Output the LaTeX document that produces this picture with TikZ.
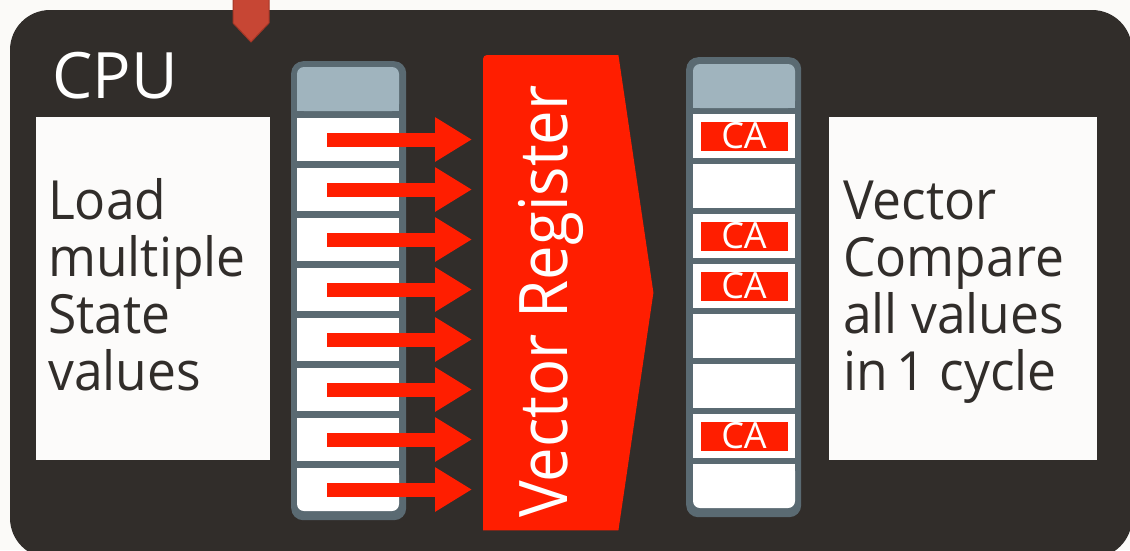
\documentclass[tikz,border=0pt]{standalone}
\usepackage{fontspec}
\setmainfont{Open Sans}[FakeStretch=0.955]
\newfontfamily\vrfont{Open Sans}[FakeStretch=0.92]
\newfontfamily\plainfont{Open Sans}
\usetikzlibrary{arrows.meta,calc}
\definecolor{bgc}{HTML}{FBFAF8}
\definecolor{cpuc}{HTML}{312D2A}
\definecolor{boxc}{HTML}{FCFBFA}
\definecolor{regborder}{HTML}{5A6A72}
\definecolor{reghead}{HTML}{A0B4BE}
\definecolor{brightred}{HTML}{FF1E00}
\definecolor{oracred}{HTML}{C74634}
\definecolor{oracreddark}{HTML}{A33626}
\begin{document}
\begin{tikzpicture}[x=1pt,y=-1pt,
  textbox/.style={fill=boxc, draw=none, anchor=north west, inner sep=0pt, minimum height=343pt},
  bodytext/.style={anchor=north west, inner sep=0pt, align=left, text=cpuc,
    font=\fontsize{54pt}{57pt}\selectfont},
  colouter/.style={fill=regborder, draw=none, anchor=north west, inner sep=0pt,
    minimum width=115pt, rounded corners=12pt},
  cellbox/.style={fill=white, draw=none, inner sep=0pt, minimum width=102pt},
  calabel/.style={fill=brightred, text=white, inner sep=0pt, minimum width=87pt,
    minimum height=29pt, font=\plainfont\fontsize{36pt}{36pt}\selectfont},
  bigarrow/.style={draw=brightred, line width=14pt,
    -{Triangle[length=37pt 0 0, width=42pt 0 0]}}]
\useasboundingbox (0,0) rectangle (1130,550);
\fill[bgc] (0,0) rectangle (1130,550);
% CPU frame
\fill[cpuc, rounded corners=40pt] (10,10) rectangle (1132,558);
\node[anchor=base west, inner sep=0pt, text=white, font=\plainfont\fontsize{64pt}{64pt}\selectfont] (cpu) at (52,98) {CPU};
% incoming marker
\filldraw[fill=oracred, draw=oracreddark, line width=1pt] (233,-2) -- (233,23) -- (251,42) -- (269,23) -- (269,-2) -- cycle;
% text boxes
\node[textbox, minimum width=234pt] (lbox) at (36,117) {};
\node[bodytext] (ltext) at (48,165) {\rule{0pt}{54pt}Load\\multiple\\State\\values};
\node[textbox, minimum width=268pt] (rbox) at (829,117) {};
\node[bodytext] (rtext) at (843,165) {\rule{0pt}{54pt}Vector\\Compare\\all values\\in\hspace{-0.08em} 1 cycle};
% left register column
\node[colouter, minimum height=459pt] (lcol) at (291,61) {};
\fill[reghead, rounded corners=7pt] (297,67) rectangle (399,111);
\fill[reghead] (297,90) rectangle (399,111);
\foreach \i in {0,...,6} {
  \node[cellbox, minimum height=43pt] (L\i) at (348,139.5+50*\i) {};
}
\node[cellbox, minimum height=43pt, rounded corners=7pt] (L7) at (348,489.5) {};
\fill[white] (297,468) rectangle (399,490);
% right register column
\node[colouter, minimum height=460pt] (rcol) at (686,57) {};
\fill[reghead, rounded corners=7pt] (693,64) rectangle (795,108);
\fill[reghead] (693,86) rectangle (795,108);
\foreach \i in {0,...,6} {
  \node[cellbox, minimum height=44pt] (R\i) at (744,136+50*\i) {};
}
\node[cellbox, minimum height=44pt, rounded corners=7pt] (R7) at (744,486) {};
\fill[white] (693,464) rectangle (795,486);
\foreach \i in {0,2,3,6} {
  \node[calabel] (ca\i) at (R\i.center) {CA};
}
% vector register
\node[draw=none, inner sep=0pt, minimum width=135pt, minimum height=475pt, anchor=north west] (vr) at (483,55) {};
\fill[brightred, rounded corners=4pt] (vr.south west) -- (vr.north west) [sharp corners] -- (vr.north east) -- ($(vr.east)+(35pt,0)$) -- (vr.south east) -- cycle;
\node[rotate=90, anchor=base west, inner sep=0pt, text=white, font=\vrfont\fontsize{67pt}{67pt}\selectfont] (vrtext) at (567,518) {Vector Register};
% load arrows
\foreach \i in {0,...,7} {
  \draw[bigarrow] ([xshift=-21pt]L\i.center) -- ($(L\i.center -| vr.west)+(-11pt,0)$);
}
\end{tikzpicture}
\end{document}
